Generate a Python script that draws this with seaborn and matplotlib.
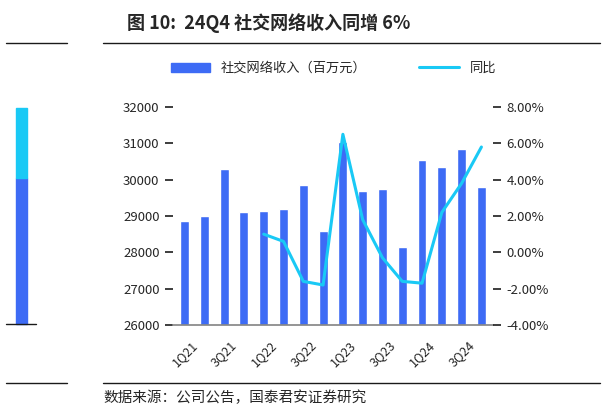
import matplotlib
matplotlib.use("Agg")
import matplotlib.pyplot as plt
import seaborn as sns
import numpy as np
import pandas as pd
from matplotlib.lines import Line2D
from matplotlib.patches import Rectangle

quarters = ["1Q21","2Q21","3Q21","4Q21","1Q22","2Q22","3Q22","4Q22",
            "1Q23","2Q23","3Q23","4Q23","1Q24","2Q24","3Q24","4Q24"]
revenue = [28850,29000,30300,29100,29150,29200,29850,28600,
           31050,29700,29750,28150,30550,30350,30850,29800]
yoy = [np.nan,np.nan,np.nan,np.nan,1.0,0.6,-1.6,-1.8,
       6.5,1.8,-0.3,-1.6,-1.7,2.2,3.8,5.8]

sns.set_theme(style="white")
plt.rcParams['font.family'] = ['Noto Sans CJK SC', 'DejaVu Sans']

fig = plt.figure(figsize=(6.06,4.15), dpi=100)
ax = fig.add_axes([0.285,0.217,0.529,0.525])
df = pd.DataFrame({"q":quarters,"rev":revenue,"yoy":yoy})
sns.barplot(data=df, x="q", y="rev", color="#3D6BF5", width=0.45, ax=ax, saturation=1)
ax.set_ylim(26000,32000)
ax.set_yticks(range(26000,32001,1000))
ax.set_xlabel(""); ax.set_ylabel("")
ax.set_xticks(range(0,16,2))
ax.set_xticklabels(quarters[::2], rotation=45, fontsize=9)
ax.tick_params(axis='y', labelsize=9.5)
ax2 = ax.twinx()
ax2.plot(range(16), yoy, color="#19C9F5", lw=2.2)
ax2.set_ylim(-4,8)
ax2.set_yticks(range(-4,9,2))
ax2.set_yticklabels([f"{v:.2f}%" for v in range(-4,9,2)], fontsize=9.5)
ax.set_xlim(-0.6,15.6)
for a in (ax, ax2):
    for s in a.spines.values(): s.set_visible(False)
ax.spines['bottom'].set_visible(True); ax.spines['bottom'].set_color('#888')

handles=[Rectangle((0,0),1,1,color="#3D6BF5"), Line2D([],[],color="#19C9F5",lw=2.2)]
fig.legend(handles,["社交网络收入（百万元）","同比"], loc="center", bbox_to_anchor=(0.55,0.835),
           ncol=2, frameon=False, fontsize=9.5, columnspacing=4, handlelength=3)

fig.text(0.21,0.93,"图 10:  24Q4 社交网络收入同增 6%", fontsize=13, fontweight='bold')
fig.text(0.17,0.03,"数据来源：公司公告，国泰君安证券研究", fontsize=10.5)
for y in (0.897, 0.078):
    fig.add_artist(Line2D([0.01,0.11],[y,y],color='k',lw=1))
    fig.add_artist(Line2D([0.17,0.99],[y,y],color='k',lw=1))
fig.add_artist(Rectangle((0.026,0.22),0.018,0.35,color="#3D6BF5",transform=fig.transFigure))
fig.add_artist(Rectangle((0.026,0.57),0.018,0.17,color="#19C9F5",transform=fig.transFigure))
fig.add_artist(Line2D([0.01,0.06],[0.22,0.22],color='k',lw=1))
fig.savefig("out.png", dpi=100)
